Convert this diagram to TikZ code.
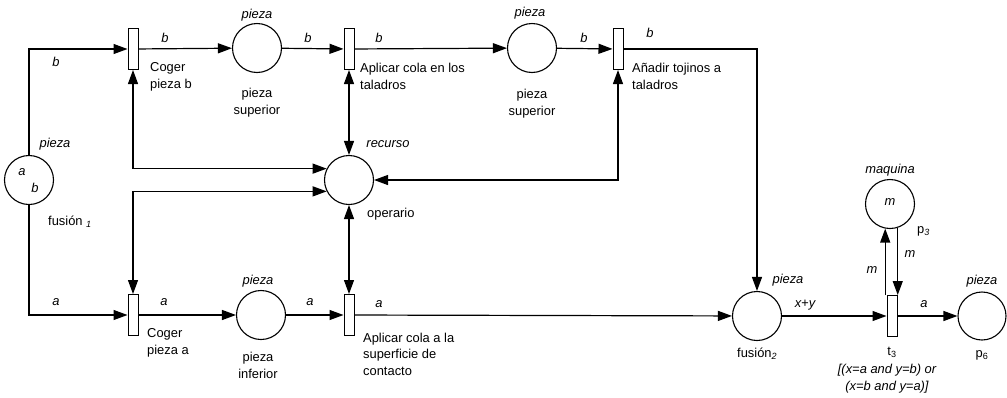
\documentclass[tikz,border=0pt]{standalone}
\usepackage{fontspec}
\setmainfont{Liberation Sans}
\usetikzlibrary{arrows.meta}
\tikzset{
  place/.style={circle, draw, line width=1.1pt, minimum size=49pt, inner sep=0pt},
  trans/.style={rectangle, draw, line width=1pt, fill=white, minimum width=10pt, minimum height=41pt, inner sep=0pt},
  arc/.style={line width=1.2pt, -{Triangle[length=14pt,width=10pt]}},
  biarc/.style={line width=1.2pt, {Triangle[length=14pt,width=10pt]}-{Triangle[length=14pt,width=10pt]}},
  lbl/.style={font=\itshape, inner sep=0pt, anchor=base},
  txt/.style={align=left, inner sep=0pt, anchor=base west},
  ctxt/.style={align=center, inner sep=0pt, anchor=base},
}
\begin{document}
\begin{tikzpicture}[x=1pt,y=-1pt]
\fontsize{12.9}{16.5}\selectfont
\useasboundingbox (0,0) rectangle (1007,397);
% places
\node[place] (f1) at (29,180) {};
\node[place] (p1) at (257,48) {};
\node[place] (p2) at (532,48) {};
\node[place] (rec) at (349,180) {};
\node[place] (pinf) at (261,315) {};
\node[place] (f2) at (757,316) {};
\node[place] (p3) at (890,204) {};
\node[place, minimum size=48pt] (p6) at (982,316) {};
% transitions
\node[trans] (T1) at (133,49) {};
\node[trans] (T2) at (349,49) {};
\node[trans] (T3) at (618,49) {};
\node[trans] (T4) at (133,315) {};
\node[trans] (T5) at (349,315) {};
\node[trans] (t3) at (892,316) {};
% arcs
\draw[arc] (f1.north) |- (T1.west);
\draw[arc] (f1.south) |- (T4.west);
\draw[arc] (T1) -- (p1);
\draw[arc] (p1) -- (T2);
\draw[arc] (T2) -- (p2);
\draw[arc] (p2) -- (T3);
\draw[arc] (T3.east) -| (f2.north);
\draw[biarc] (T1.south) |- (rec.153);
\draw[biarc] (rec.207) -| (T4.north);
\draw[biarc] (T2.south) -- (rec.north);
\draw[biarc] (rec.south) -- (T5.north);
\draw[biarc] (T3.south) |- (rec.east);
\draw[arc] (T4) -- (pinf);
\draw[arc] (pinf) -- (T5);
\draw[arc] (T5) -- (f2);
\draw[arc] (f2) -- (t3);
\draw[arc] (t3) -- (p6);
\draw[arc] (t3.north -| p3.259) -- (p3.259);
\draw[arc] (p3.288) -- (t3.north -| p3.288);
% arc labels
\node[lbl] (lb0) at (56,66) {b};
\node[lbl] (lb1) at (165,42) {b};
\node[lbl] (lb2) at (308,42) {b};
\node[lbl] (lb3) at (379,42) {b};
\node[lbl] (lb4) at (584,42) {b};
\node[lbl] (lb5) at (650,37) {b};
\node[lbl] (la0) at (56,305) {a};
\node[lbl] (la1) at (164,305) {a};
\node[lbl] (la2) at (310,305) {a};
\node[lbl] (la3) at (379,307) {a};
\node[lbl] (lxy) at (805,307) {x+y};
\node[lbl] (la4) at (924,307) {a};
\node[lbl] (lm1) at (872,273) {m};
\node[lbl] (lm2) at (910,257) {m};
% type labels
\node[lbl] (ty1) at (55,147) {pieza};
\node[lbl] (ty2) at (257,18) {pieza};
\node[lbl] (ty3) at (530,16) {pieza};
\node[lbl] (ty4) at (388,147) {recurso};
\node[lbl] (ty5) at (258,284) {pieza};
\node[lbl] (ty6) at (788,283) {pieza};
\node[lbl] (ty7) at (890,173) {maquina};
\node[lbl] (ty8) at (982,284) {pieza};
% tokens
\node[lbl] (tka) at (22,175) {a};
\node[lbl] (tkb) at (35,192) {b};
\node[lbl] (tkm) at (890,205) {m};
% names
\node[txt] (n1) at (150,88) {Coger\\pieza b};
\node[ctxt] (n2) at (257,114) {pieza\\superior};
\node[txt] (n3) at (360,89) {Aplicar cola en los\\taladros};
\node[ctxt] (n4) at (532,115) {pieza\\superior};
\node[txt] (n5) at (632,89) {Añadir tojinos a\\taladros};
\node[txt] (n6) at (48,225) {fusión \textsubscript{\itshape 1}};
\node[txt] (n7) at (367,217) {operario};
\node[txt] (n8) at (147,354) {Coger\\pieza a};
\node[ctxt] (n9) at (258,378) {pieza\\inferior};
\node[txt] (n10) at (363,375) {Aplicar cola a la\\superficie de\\contacto};
\node[txt] (n11) at (737,357) {fusión\textsubscript{\itshape 2}};
\node[txt] (n12) at (917,233) {p\textsubscript{\itshape 3}};
\node[ctxt] (n13) at (892,355) {t\textsubscript{3}};
\node[ctxt] (n14) at (982,357) {p\textsubscript{6}};
\node[ctxt, font=\itshape] (n15) at (887,390) {[(x=a and y=b) or\\(x=b and y=a)]};
\end{tikzpicture}
\end{document}
